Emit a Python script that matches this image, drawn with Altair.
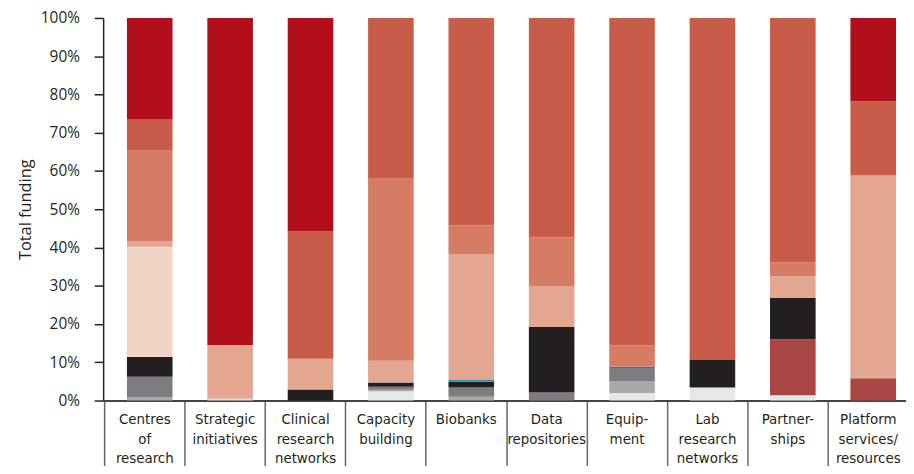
import altair as alt
import pandas as pd

# Categories (line breaks marked with "|")
categories = [
    "Centres|of|research", "Strategic|initiatives", "Clinical|research|networks",
    "Capacity|building", "Biobanks", "Data|repositories", "Equip-|ment",
    "Lab|research|networks", "Partner-|ships", "Platform|services/|resources",
]

# Funding-source series, stacked bottom to top
series = ["S01", "S02", "S03", "S04", "S05", "S06", "S07", "S08", "S09", "S10", "S11", "S12"]
colors = ["#e6e7e8", "#a7a9ac", "#7c7d81", "#aa4744", "#231f20", "#2e8eb1",
          "#6c5b8e", "#f2d4c7", "#e3a690", "#d57c63", "#c95c48", "#b30e1b"]

# Share of total funding (%) per series, for each category
centres      = [0.0, 0.8, 5.4, 0.0, 5.2, 0.0, 0.0, 28.8, 1.5, 23.8, 8.1, 26.4]
strategic    = [0.0, 0.0, 0.0, 0.0, 0.0, 0.0, 0.0, 0.5, 14.0, 0.0, 0.0, 85.5]
clinical     = [0.0, 0.0, 0.0, 0.0, 2.9, 0.0, 0.0, 0.0, 8.0, 0.0, 33.3, 55.8]
capacity     = [2.4, 0.45, 0.75, 0.0, 1.1, 0.0, 0.0, 0.0, 5.7, 47.6, 42.0, 0.0]
biobanks     = [0.0, 1.0, 2.4, 0.0, 1.5, 0.5, 0.0, 0.0, 32.9, 7.5, 54.2, 0.0]
data_repos   = [0.0, 0.0, 2.1, 0.0, 17.1, 0.0, 0.0, 0.0, 10.6, 12.9, 57.3, 0.0]
equipment    = [2.0, 3.0, 3.5, 0.0, 0.0, 0.0, 0.3, 0.0, 0.0, 5.6, 85.6, 0.0]
lab_networks = [3.4, 0.0, 0.0, 0.0, 7.2, 0.0, 0.0, 0.0, 0.0, 0.0, 89.4, 0.0]
partnerships = [1.4, 0.0, 0.0, 14.6, 10.9, 0.0, 0.0, 0.0, 5.6, 3.6, 63.9, 0.0]
platform     = [0.0, 0.0, 0.0, 5.8, 0.0, 0.0, 0.0, 0.0, 53.0, 0.0, 19.4, 21.8]

all_values = [centres, strategic, clinical, capacity, biobanks, data_repos,
              equipment, lab_networks, partnerships, platform]

y_ticks = [0, 10, 20, 30, 40, 50, 60, 70, 80, 90, 100]

rows = []
for cat, vals in zip(categories, all_values):
    for i, (s, v) in enumerate(zip(series, vals)):
        if v > 0:
            rows.append({"category": cat, "series": s, "order": i, "value": v})
df = pd.DataFrame(rows)

text_color = "#231f20"

chart = alt.Chart(df).mark_bar(stroke=None).encode(
    x=alt.X(
        "category:N",
        sort=categories,
        scale=alt.Scale(paddingInner=0.4328, paddingOuter=0.2102, align=0.704),
        axis=alt.Axis(
            title=None,
            labelExpr="split(datum.label, '|')",
            labelAngle=0,
            labelAlign="center",
            labelBaseline="top",
            labelFont="'DejaVu Sans Condensed', 'Liberation Sans', sans-serif",
            labelFontSize=15,
            labelLineHeight=20,
            labelColor=text_color,
            labelOverlap=False,
            labelFlush=False,
            labelBound=False,
            bandPosition=0,
            tickOffset=-23,
            labelOffset=17.5,
            tickSize=72,
            tickColor="#666666",
            tickWidth=1.5,
            labelPadding=-61,
            domainColor="#444444",
            domainWidth=2,
        ),
    ),
    y=alt.Y(
        "value:Q",
        stack="zero",
        scale=alt.Scale(domain=[0, 100], nice=False),
        axis=alt.Axis(
            title="Total funding",
            values=y_ticks,
            labelExpr="datum.value + '%'",
            labelFont="Open Sans",
            labelFontSize=15.5,
            labelColor=text_color,
            labelPadding=15,
            tickSize=9,
            tickColor=text_color,
            tickWidth=1.5,
            domainColor=text_color,
            domainWidth=1.5,
            grid=False,
            titleFont="Open Sans",
            titleFontSize=16.5,
            titleFontWeight="normal",
            titleColor=text_color,
            titlePadding=7,
        ),
    ),
    color=alt.Color("series:N", scale=alt.Scale(domain=series, range=colors), legend=None),
    order=alt.Order("order:Q", sort="ascending"),
).properties(
    width=810,
    height=386,
    autosize=alt.AutoSizeParams(type="none"),
    padding={"left": 96, "top": 8, "right": 0, "bottom": 64},
).configure_view(stroke=None)

chart.save("out.html", embed_options={"renderer": "svg", "actions": False})
